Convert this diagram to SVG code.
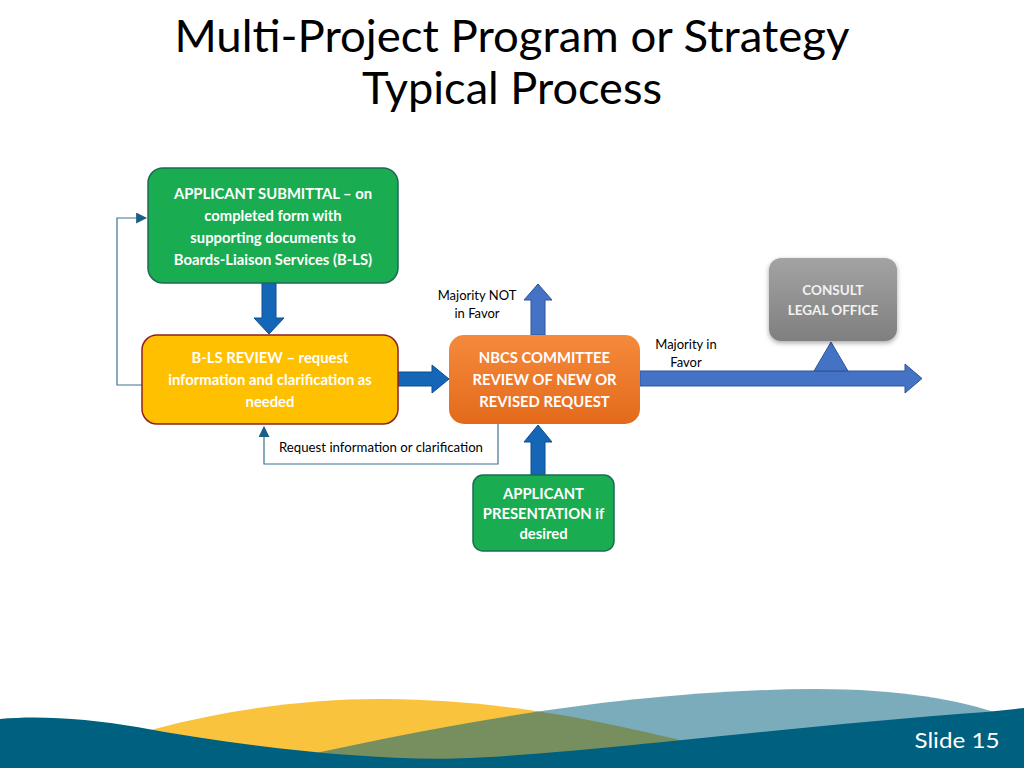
<svg xmlns="http://www.w3.org/2000/svg" width="1024" height="768" viewBox="0 0 1024 768">
<defs>
<style>
.title{font-family:Lato,"Open Sans","Liberation Sans",sans-serif;font-size:44px;fill:#000;text-anchor:middle}
.nt{font-family:Lato,"Open Sans","Liberation Sans",sans-serif;font-size:14.8px;font-weight:bold;fill:#fff;text-anchor:middle}
.lb{font-family:Lato,"Open Sans","Liberation Sans",sans-serif;font-size:13px;fill:#000;text-anchor:middle}
.thin{fill:none;stroke:#3d7393;stroke-width:1.2}
.bigA{fill:#1566b7;stroke:#0d4e8f;stroke-width:1}
.bigB{fill:#4472c4;stroke:#2f5597;stroke-width:1}
</style>
<linearGradient id="og" x1="0" y1="0" x2="0" y2="1"><stop offset="0" stop-color="#f58a3c"/><stop offset="1" stop-color="#e46a1b"/></linearGradient>
<linearGradient id="gg" x1="0" y1="0" x2="0" y2="1"><stop offset="0" stop-color="#a3a3a3"/><stop offset="1" stop-color="#7f7f7f"/></linearGradient>
<filter id="sh" x="-20%" y="-20%" width="140%" height="150%"><feGaussianBlur in="SourceAlpha" stdDeviation="2.5"/><feOffset dx="0" dy="2" result="b"/><feFlood flood-color="#000" flood-opacity="0.35"/><feComposite in2="b" operator="in"/><feMerge><feMergeNode/><feMergeNode in="SourceGraphic"/></feMerge></filter>
<marker id="ah" viewBox="0 0 10 10" refX="9" refY="5" markerWidth="11" markerHeight="11" markerUnits="userSpaceOnUse" orient="auto"><path d="M0,0 L10,5 L0,10 Z" fill="#1a5f85"/></marker>
</defs>
<rect width="1024" height="768" fill="#fff"/>
<g id="title">
<text class="title" x="512" y="52" textLength="675" lengthAdjust="spacingAndGlyphs">Multi-Project Program or Strategy</text>
<text class="title" x="512" y="104" textLength="300" lengthAdjust="spacingAndGlyphs">Typical Process</text>
</g>
<g id="connectors">
<polyline class="thin" points="142,385 117,385 117,218 146,218" marker-end="url(#ah)"/>
<polyline class="thin" points="498,424 498,464 264,464 264,427" marker-end="url(#ah)"/>
<path class="bigA" d="M262,283 L276,283 L276,318 L284,318 L269,334 L254,318 L262,318 Z"/>
<path class="bigA" d="M398,372 L432,372 L432,365 L449,379 L432,393 L432,386 L398,386 Z"/>
<path class="bigB" d="M531,335 L531,300 L524,300 L538,284 L552,300 L545,300 L545,335 Z"/>
<path class="bigA" d="M531,475 L531,442 L524,442 L538,425 L552,442 L545,442 L545,475 Z"/>
<path class="bigB" d="M640,371 L905,371 L905,364 L922,378.5 L905,393 L905,386 L640,386 Z"/>
<path class="bigB" d="M831,342 L848,371 L814,371 Z"/>
<text class="lb" x="477" y="300">Majority NOT</text>
<text class="lb" x="477" y="318">in Favor</text>
<text class="lb" x="686" y="349">Majority in</text>
<text class="lb" x="686" y="367">Favor</text>
<text class="lb" x="381" y="452" textLength="204" lengthAdjust="spacingAndGlyphs">Request information or clarification</text>
</g>
<g id="applicant-submittal">
<rect x="148" y="168" width="250" height="115" rx="15" fill="#1aac50" stroke="#1d6b55" stroke-width="1.5"/>
<text class="nt" x="273" y="199">APPLICANT SUBMITTAL – on</text>
<text class="nt" x="273" y="221">completed form with</text>
<text class="nt" x="273" y="243">supporting documents to</text>
<text class="nt" x="273" y="265">Boards-Liaison Services (B-LS)</text>
</g>
<g id="bls-review">
<rect x="142" y="335" width="256" height="89" rx="15" fill="#ffc000" stroke="#8e2121" stroke-width="1.5"/>
<text class="nt" x="270" y="363">B-LS REVIEW – request</text>
<text class="nt" x="270" y="385">information and clarification as</text>
<text class="nt" x="270" y="407">needed</text>
</g>
<g id="nbcs-committee">
<rect x="449" y="335" width="191" height="89" rx="15" fill="url(#og)"/>
<text class="nt" x="544.5" y="363">NBCS COMMITTEE</text>
<text class="nt" x="544.5" y="385">REVIEW OF NEW OR</text>
<text class="nt" x="544.5" y="407">REVISED REQUEST</text>
</g>
<g id="consult-legal">
<rect x="769" y="258" width="128" height="83" rx="12" fill="url(#gg)" filter="url(#sh)"/>
<text class="nt" x="833" y="295" style="fill:#f2f2f2;font-size:13.5px">CONSULT</text>
<text class="nt" x="833" y="315" style="fill:#f2f2f2;font-size:13.5px">LEGAL OFFICE</text>
</g>
<g id="applicant-presentation">
<rect x="473" y="475" width="141" height="76" rx="10" fill="#1aac50" stroke="#1d6b55" stroke-width="1.5"/>
<text class="nt" x="543.5" y="499">APPLICANT</text>
<text class="nt" x="543.5" y="519">PRESENTATION if</text>
<text class="nt" x="543.5" y="539">desired</text>
</g>
<g id="footer">
<path d="M50,768 C150,718 290,698 385,699 C480,700 570,712 700,745 L760,768 Z" fill="#f9c33d"/>
<path d="M250,768 C420,728 620,690 815,689 C900,689 960,700 1000,714 L1024,724 L1024,768 Z" fill="#00607f" fill-opacity="0.52"/>
<path d="M0,719 C40,715 90,719 137,727 C250,748 380,762 470,758 C600,752 800,725 986,712 L1024,708 L1024,768 L0,768 Z" fill="#00607f"/>
<text x="957" y="748" textLength="85" lengthAdjust="spacingAndGlyphs" style="font-family:Lato,'Open Sans','Liberation Sans',sans-serif;font-size:22px;fill:#fff;text-anchor:middle">Slide  15</text>
</g>
</svg>
